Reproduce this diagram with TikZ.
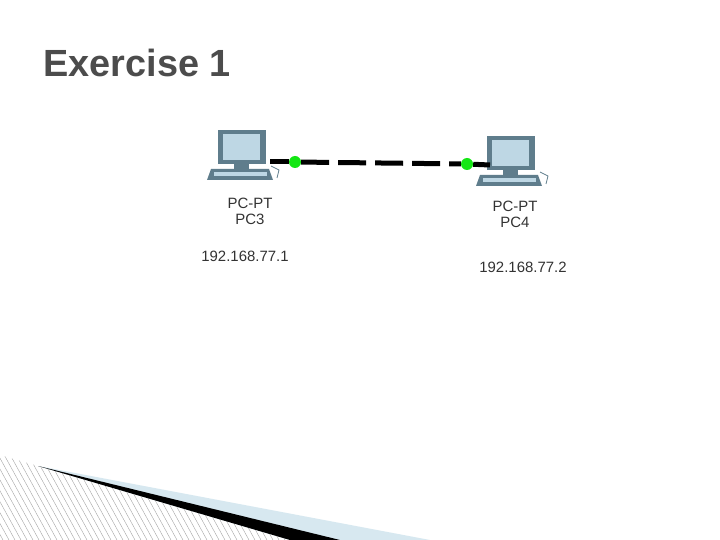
\documentclass[tikz,border=0pt]{standalone}
\usepackage{fontspec}
\setmainfont{Liberation Sans}
\usetikzlibrary{positioning}
\definecolor{scrblue}{RGB}{190,215,228}
\definecolor{pcgrey}{RGB}{95,125,140}
\definecolor{wedgeblue}{RGB}{215,232,240}
\definecolor{linkgreen}{RGB}{20,230,20}
\newcommand{\pcicon}[1]{%
  \begin{scope}[shift={(#1)}]
    \fill[pcgrey] (-25,-28) rectangle (23,6);
    \fill[scrblue] (-20,-24) rectangle (17,2);
    \fill[pcgrey] (-9,6) rectangle (6,11);
    \fill[pcgrey] (-32,11) -- (26,11) -- (30,22) -- (-36,22) -- cycle;
    \fill[scrblue] (-29,14) rectangle (24,18);
    \draw[pcgrey,thick] (28,8) -- (36,12) -- (34,20);
  \end{scope}}
\begin{document}
\begin{tikzpicture}[x=1bp,y=-1bp,
    lbl/.style={font=\fontsize{15}{17}\selectfont, text=black!80},
    dot/.style={circle, fill=linkgreen, minimum size=12bp, inner sep=0pt}]
  \fill[white] (0,0) rectangle (720,540);
  % bottom decoration
  \begin{scope}
    \clip (0,455) -- (38,466) -- (300,540) -- (0,540) -- cycle;
    \foreach \i in {-100,-94,...,300}
      \draw[black!35, line width=0.4pt] (\i,440) -- (\i+55,540);
  \end{scope}
  \fill[wedgeblue] (38,466) -- (430,540) -- (290,540) -- cycle;
  \fill[black] (38,466) -- (340,540) -- (290,540) -- cycle;
  % title
  \node[anchor=west, font=\bfseries\fontsize{38}{40}\selectfont, text=black!70] (title) at (40,63) {Exercise 1};
  % computers
  \coordinate (pc3) at (243,158);
  \coordinate (pc4) at (512,164);
  \pcicon{pc3}
  \pcicon{pc4}
  \node[lbl] (type3) at (250,203) {PC-PT};
  \node[lbl, below=-1bp of type3] (name3) {PC3};
  \node[lbl] (ip3) at (245,256) {192.168.77.1};
  \node[lbl] (type4) at (515,206) {PC-PT};
  \node[lbl, below=-1bp of type4] (name4) {PC4};
  \node[lbl] (ip4) at (523,267) {192.168.77.2};
  % link
  \coordinate (end3) at (270,162);
  \coordinate (end4) at (490,165);
  \node[dot] (port3) at (295,162) {};
  \node[dot] (port4) at (467,164) {};
  \draw[line width=5bp] (end3) -- (port3);
  \draw[line width=5bp] (port4) -- (end4);
  \draw[line width=5bp, dash pattern=on 28bp off 9bp] (port3) -- (port4);
\end{tikzpicture}
\end{document}
